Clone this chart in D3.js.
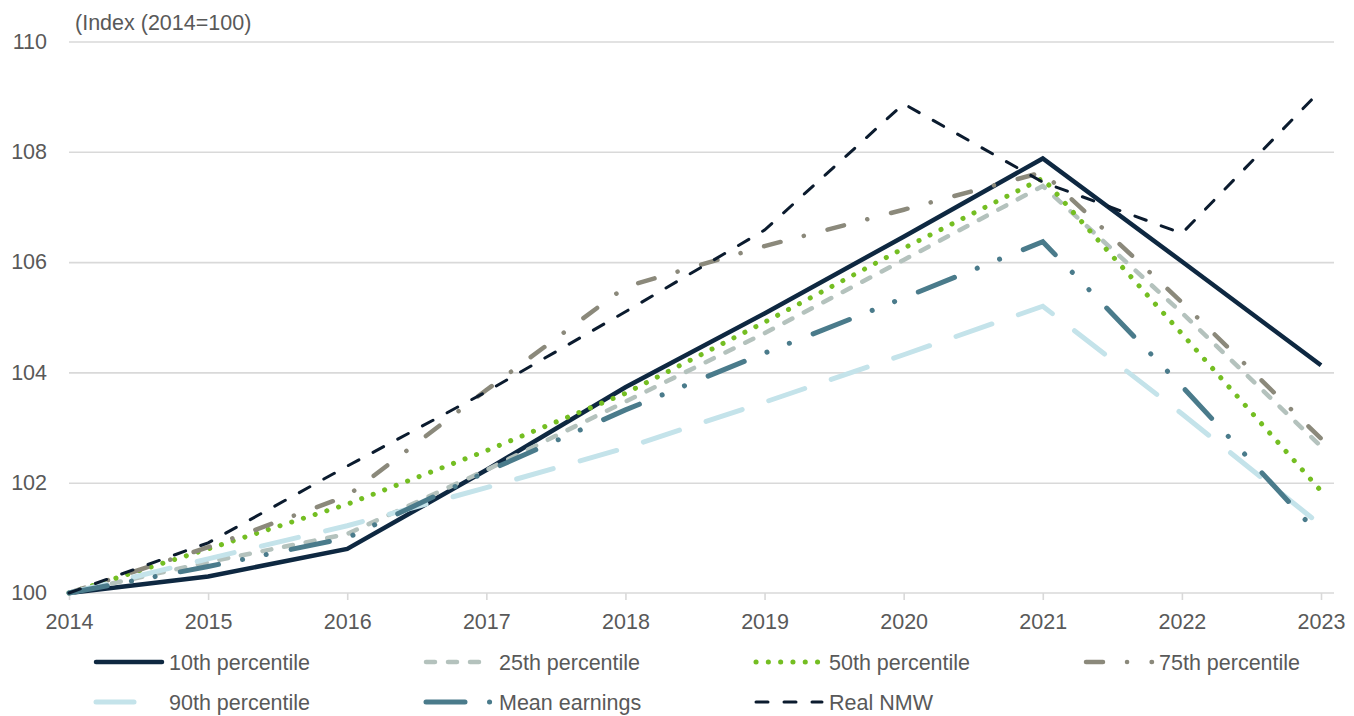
<!DOCTYPE html>
<html>
<head>
<meta charset="utf-8">
<script src="https://cdn.jsdelivr.net/npm/d3@7"></script>
<style>
  html, body { margin: 0; padding: 0; background: #ffffff; }
  svg { display: block; }
  text { font-family: "Liberation Sans", Arial, sans-serif; fill: #595959; }
</style>
</head>
<body>
<svg id="chart" width="1354" height="716"></svg>
<script>
// Earnings percentiles and the real National Minimum Wage, indexed to 2014 = 100
const years = [2014, 2015, 2016, 2017, 2018, 2019, 2020, 2021, 2022, 2023];

const p10  = [100, 100.30, 100.80, 102.23, 103.73, 105.07, 106.46, 107.88, 106.01, 104.13];
const p25  = [100, 100.56, 101.07, 102.23, 103.47, 104.71, 106.04, 107.38, 105.08, 102.66];
const p50  = [100, 100.80, 101.61, 102.58, 103.62, 104.91, 106.25, 107.52, 104.70, 101.85];
const p75  = [100, 100.83, 101.76, 103.68, 105.55, 106.29, 106.95, 107.63, 105.27, 102.80];
const p90  = [100, 100.62, 101.22, 101.91, 102.63, 103.46, 104.32, 105.20, 103.25, 101.23];
const meanEarnings = [100, 100.48, 101.00, 102.20, 103.32, 104.35, 105.35, 106.37, 103.75, 101.02];
const realNMW = [100, 100.91, 102.30, 103.65, 105.10, 106.58, 108.87, 107.45, 106.52, 109.12];

const seriesNames = ["10th percentile", "25th percentile", "50th percentile", "75th percentile",
                     "90th percentile", "Mean earnings", "Real NMW"];
const yTicks = [100, 102, 104, 106, 108, 110];
const axisTitle = "(Index (2014=100)";

// Line styles for each series, in drawing order
const styles = [
  { color: "#0E2841", width: 4.5, dash: null },
  { color: "#B4C2BD", width: 4.5, dash: "9,13" },
  { color: "#74BE22", width: 5,   dash: "0.1,12.2" },
  { color: "#8B897B", width: 4.5, dash: "17,24,0.1,24.5" },
  { color: "#C4E3EA", width: 5,   dash: "38,28" },
  { color: "#4A7B8B", width: 5,   dash: "39,24.5,0.1,24,0.1,25.5" },
  { color: "#0B1B2E", width: 3,   dash: "12,16" }
];
const values = [p10, p25, p50, p75, p90, meanEarnings, realNMW];

const fontSize = 21.5;
const svg = d3.select("#chart");

const x = d3.scaleLinear().domain([2014, 2023]).range([69, 1321]);
const y = d3.scaleLinear().domain([100, 110]).range([593, 41.5]);
const plotRight = 1334;

// Horizontal gridlines
const grid = svg.append("g").attr("transform", `translate(69,0)`)
  .call(d3.axisLeft(y).tickValues(yTicks.slice(1)).tickSize(-(plotRight - 69)).tickFormat(""));
grid.select(".domain").remove();
grid.selectAll("line").attr("stroke", "#D9D9D9").attr("stroke-width", 1.6);

// Y axis labels
const yAxis = svg.append("g").attr("transform", "translate(47,0)")
  .call(d3.axisLeft(y).tickValues(yTicks).tickSize(0).tickPadding(0).tickFormat(d3.format("d")));
yAxis.select(".domain").remove();
yAxis.selectAll("text").attr("font-size", fontSize).attr("fill", "#595959")
  .attr("font-family", "Liberation Sans, Arial, sans-serif");

// X axis
const xAxis = svg.append("g").attr("transform", `translate(0,${y(100)})`)
  .call(d3.axisBottom(x).tickValues(years).tickSize(7).tickPadding(14).tickFormat(d3.format("d")));
xAxis.select(".domain")
  .attr("d", `M69,0H${plotRight}`)
  .attr("stroke", "#D9D9D9").attr("stroke-width", 1.6);
xAxis.selectAll(".tick line").attr("stroke", "#D9D9D9").attr("stroke-width", 1.6);
xAxis.selectAll("text").attr("font-size", fontSize).attr("fill", "#595959")
  .attr("font-family", "Liberation Sans, Arial, sans-serif");

// Axis title
svg.append("text").attr("x", 75).attr("y", 30).attr("font-size", fontSize).text(axisTitle);

// Series lines
const line = d3.line().x((d, i) => x(years[i])).y(d => y(d));
values.forEach((vals, k) => {
  const s = styles[k];
  svg.append("path")
    .datum(vals)
    .attr("d", line)
    .attr("fill", "none")
    .attr("stroke", s.color)
    .attr("stroke-width", s.width)
    .attr("stroke-linecap", s.dash ? "round" : "butt")
    .attr("stroke-linejoin", "miter")
    .attr("stroke-dasharray", s.dash);
});

// Legend: four columns, two rows
const legend = svg.append("g");
seriesNames.forEach((name, k) => {
  const col = k % 4, row = Math.floor(k / 4);
  const lx = 96 + col * 330, ly = 662 + row * 40;
  const s = styles[k];
  legend.append("line")
    .attr("x1", lx).attr("x2", lx + 66).attr("y1", ly).attr("y2", ly)
    .attr("stroke", s.color).attr("stroke-width", s.width)
    .attr("stroke-linecap", "round")
    .attr("stroke-dasharray", s.dash);
  legend.append("text")
    .attr("x", lx + 73).attr("y", ly + 7.5)
    .attr("font-size", fontSize)
    .text(name);
});
</script>
</body>
</html>
